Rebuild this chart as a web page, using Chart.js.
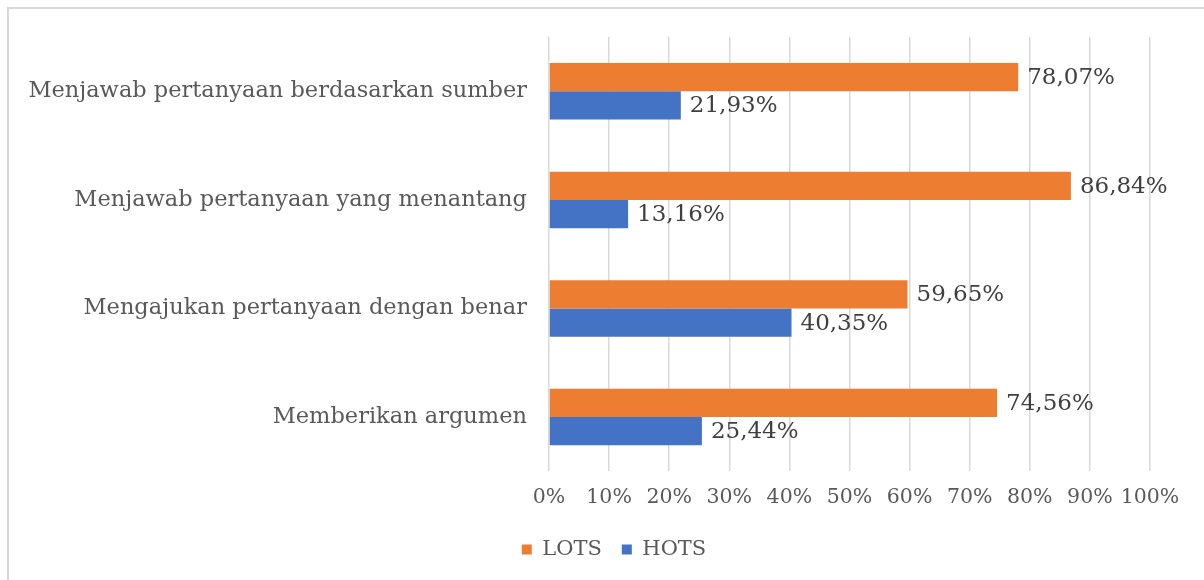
<!DOCTYPE html>
<html>
<head>
<meta charset="utf-8">
<script src="https://cdn.jsdelivr.net/npm/chart.js@4"></script>
<style>
html,body{margin:0;padding:0;background:#fff;overflow:hidden;}
#frame{position:absolute;left:7px;top:7px;width:1220px;height:600px;border:2px solid #d9d9d9;box-sizing:border-box;}
#wrap{position:absolute;left:0;top:0;width:1204px;height:580px;}
</style>
</head>
<body>
<div id="frame"></div>
<div id="wrap"><canvas id="c" width="1204" height="580"></canvas></div>
<script>
const categories = [
  "Menjawab pertanyaan berdasarkan sumber",
  "Menjawab pertanyaan yang menantang",
  "Mengajukan pertanyaan dengan benar",
  "Memberikan argumen"
];
const lotsValues = [78.07, 86.84, 59.65, 74.56];
const hotsValues = [21.93, 13.16, 40.35, 25.44];
const seriesNames = ["LOTS", "HOTS"];

const FONT = "'DejaVu Serif', serif";

const dataLabels = {
  id: 'dataLabels',
  afterDatasetsDraw(chart) {
    const ctx = chart.ctx;
    ctx.save();
    ctx.font = "23px " + FONT;
    ctx.fillStyle = "#404040";
    ctx.textAlign = "left";
    ctx.textBaseline = "middle";
    chart.data.datasets.forEach((ds, i) => {
      const meta = chart.getDatasetMeta(i);
      meta.data.forEach((el, j) => {
        const v = ds.data[j];
        const txt = v.toFixed(2).replace('.', ',') + '%';
        ctx.fillText(txt, el.x + 9, el.y + 1);
      });
    });
    ctx.restore();
  }
};

const legendShift = {
  id: 'legendShift',
  afterLayout(chart) {
    if (chart.legend) {
      chart.legend.left += 29;
      chart.legend.right += 29;
    }
  }
};

new Chart(document.getElementById('c'), {
  type: 'bar',
  data: {
    labels: categories,
    datasets: [
      { label: seriesNames[0], data: lotsValues, backgroundColor: '#ED7D31', borderWidth: 0 },
      { label: seriesNames[1], data: hotsValues, backgroundColor: '#4472C4', borderWidth: 0 }
    ]
  },
  options: {
    indexAxis: 'y',
    responsive: false,
    animation: false,
    devicePixelRatio: 1,
    layout: { padding: { left: 20, right: 54, top: 37, bottom: 10 } },
    datasets: { bar: { categoryPercentage: 0.52, barPercentage: 1.0 } },
    scales: {
      x: {
        min: 0, max: 100,
        ticks: {
          stepSize: 10,
          callback: v => v + '%',
          font: { family: FONT, size: 20.5 },
          color: '#595959',
          padding: 14,
          maxRotation: 0,
          autoSkip: false
        },
        grid: { color: '#d9d9d9', lineWidth: 1.5, drawTicks: false },
        border: { display: false },
        afterFit(scale) { scale.height -= 5; }
      },
      y: {
        ticks: {
          font: { family: FONT, size: 22.5 },
          color: '#595959',
          padding: 22
        },
        grid: { display: false, drawTicks: false },
        border: { display: false },
        afterFit(scale) { scale.width = 529; }
      }
    },
    plugins: {
      legend: {
        position: 'bottom',
        labels: {
          boxWidth: 10, boxHeight: 10,
          font: { family: FONT, size: 21 },
          color: '#595959',
          padding: 20
        }
      },
      tooltip: { enabled: false }
    }
  },
  plugins: [dataLabels, legendShift]
});
</script>
</body>
</html>
